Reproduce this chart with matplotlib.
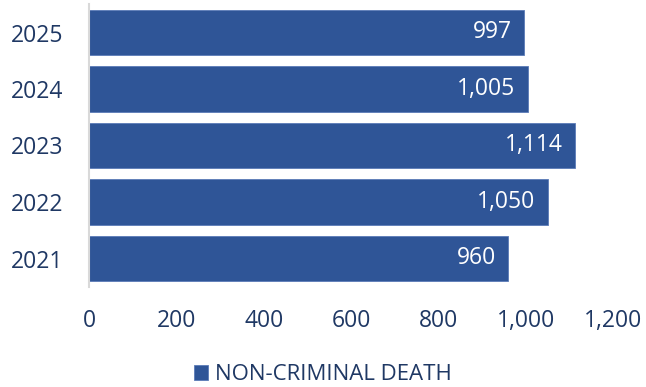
import matplotlib.pyplot as plt
from matplotlib.ticker import FuncFormatter

years = ['2021', '2022', '2023', '2024', '2025']
deaths = [960, 1050, 1114, 1005, 997]
series_name = 'NON-CRIMINAL DEATH'

bar_color = '#2F5597'
text_color = '#1F3864'

plt.rcParams['font.family'] = ['Open Sans', 'DejaVu Sans']

fig = plt.figure(figsize=(6.46, 3.87), dpi=100)
ax = fig.add_axes([89 / 646, 1 - 286.75 / 387, (613 - 89) / 646, (286.75 - 4.25) / 387])

bars = ax.barh(years, deaths, height=0.8, color=bar_color, label=series_name,
               edgecolor='#5B7BB8', linewidth=0.6)

for b, v in zip(bars, deaths):
    ax.text(b.get_width() - 28, b.get_y() + b.get_height() / 2, f'{v:,}',
            ha='right', va='center', color='white', fontsize=16.5)

ax.set_xlim(0, 1200)
ax.set_ylim(-0.5, 4.5)
ax.set_xticks(range(0, 1201, 200))
ax.xaxis.set_major_formatter(FuncFormatter(lambda x, p: f'{int(x):,}'))

for s in ['top', 'right', 'bottom']:
    ax.spines[s].set_visible(False)
ax.spines['left'].set_color('#D9D9D9')
ax.spines['left'].set_linewidth(1.5)

ax.tick_params(axis='both', length=0, labelsize=16.5, colors=text_color)
ax.tick_params(axis='x', pad=16)
ax.tick_params(axis='y', pad=18.5)

fig.legend(loc='center', bbox_to_anchor=(0.5, 1 - 375 / 387), frameon=False,
           fontsize=16, labelcolor=text_color, handlelength=0.65, handleheight=0.65,
           handletextpad=0.3, borderpad=0)

fig.savefig('out.png', dpi=100)
